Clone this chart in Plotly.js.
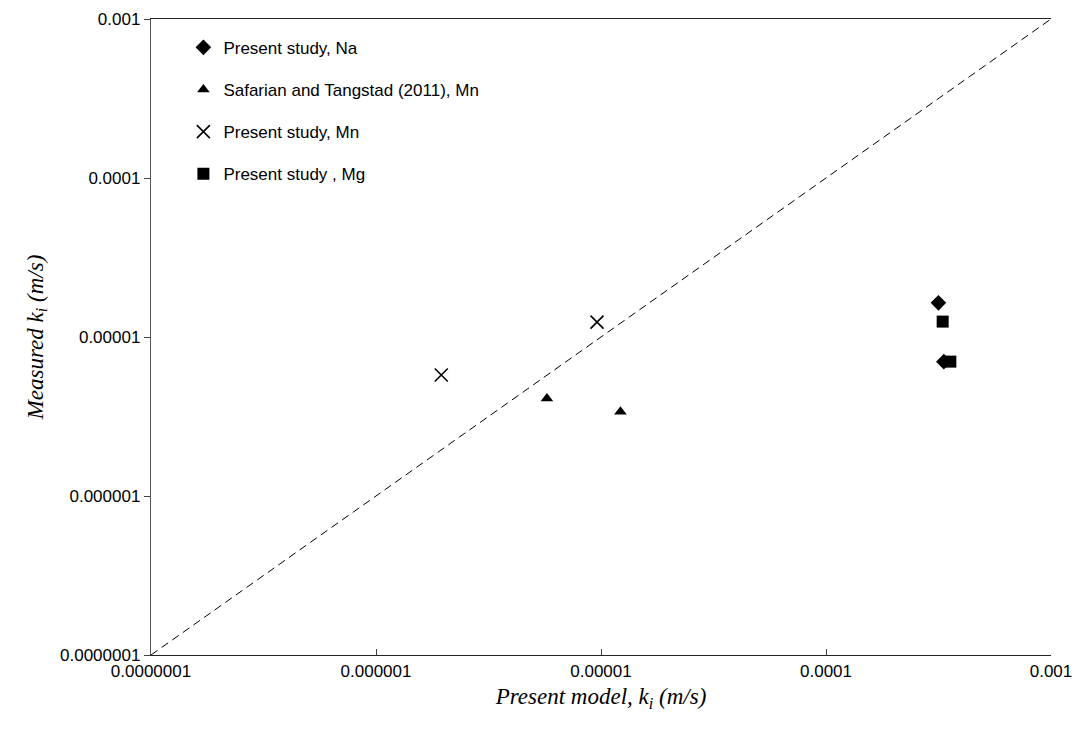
<!DOCTYPE html>
<html>
<head>
<meta charset="utf-8">
<script src="https://cdn.plot.ly/plotly-3.0.1.min.js"></script>
<style>html,body{margin:0;padding:0;background:#fff;}#chart{width:1081px;height:730px;}</style>
</head>
<body>
<div id="chart"></div>
<script>
// Data (model vs measured mass transfer coefficient, m/s)
const naModel = [3.16e-4, 3.34e-4];
const naMeasured = [1.64e-5, 7.0e-6];

const safModel = [5.75e-6, 1.22e-5];
const safMeasured = [4.1e-6, 3.39e-6];

const mnModel = [1.95e-6, 9.6e-6];
const mnMeasured = [5.77e-6, 1.24e-5];

const mgModel = [3.3e-4, 3.57e-4];
const mgMeasured = [1.25e-5, 7.0e-6];

const parityX = [1e-7, 1e-3];
const parityY = [1e-7, 1e-3];

const tickVals = [1e-7, 1e-6, 1e-5, 1e-4, 1e-3];
const tickText = ['0.0000001', '0.000001', '0.00001', '0.0001', '0.001'];

const traces = [
  {x: parityX, y: parityY, mode: 'lines', type: 'scatter', showlegend: false, hoverinfo: 'skip',
   line: {color: '#000', width: 1, dash: '8px,5px'}},
  {x: naModel, y: naMeasured, mode: 'markers', type: 'scatter', name: 'Present study, Na', legendgroup: 'a',
   marker: {symbol: 'diamond', size: 12, color: '#000'}},
  {x: safModel, y: safMeasured, mode: 'markers', type: 'scatter', name: 'Safarian and Tangstad (2011), Mn', legendgroup: 'b',
   marker: {symbol: 'triangle-up', size: 11, color: '#000'}},
  {x: mnModel, y: mnMeasured, mode: 'markers', type: 'scatter', name: 'Present study, Mn', legendgroup: 'c',
   marker: {symbol: 'x-thin', size: 13, color: '#000', line: {width: 1.6, color: '#000'}}},
  {x: mgModel, y: mgMeasured, mode: 'markers', type: 'scatter', name: 'Present study , Mg', legendgroup: 'd',
   marker: {symbol: 'square', size: 12, color: '#000'}}
];

const layout = {
  width: 1081, height: 730,
  margin: {l: 151, r: 30, t: 19, b: 75},
  paper_bgcolor: '#fff', plot_bgcolor: '#fff',
  font: {family: 'Liberation Sans, Arial, sans-serif', size: 17, color: '#000'},
  showlegend: true,
  legend: {x: 0.036, y: 0.983, xanchor: 'left', yanchor: 'top', bgcolor: 'rgba(0,0,0,0)',
           font: {size: 17, color: '#000'}, tracegroupgap: 17, traceorder: 'grouped'},
  xaxis: {type: 'log', range: [-7, -3], tickvals: tickVals, ticktext: tickText,
          showgrid: false, zeroline: false, showline: true, linecolor: '#222', linewidth: 1.2,
          mirror: true, ticks: 'inside', ticklen: 6, tickcolor: '#444', tickwidth: 1,
          tickfont: {size: 17}, automargin: false,
          title: {text: '<i>Present model, k<sub>i</sub> (m/s)</i>', standoff: 8,
                  font: {family: 'Liberation Serif, Times New Roman, serif', size: 23}}},
  yaxis: {type: 'log', range: [-7, -3], tickvals: tickVals, ticktext: tickText,
          showgrid: false, zeroline: false, showline: true, linecolor: '#555', linewidth: 1.2,
          ticks: 'outside', ticklen: 6, tickcolor: '#444', tickwidth: 1,
          tickfont: {size: 17}, automargin: false,
          title: {text: '<i>Measured k<sub>i</sub> (m/s)</i>', standoff: 10,
                  font: {family: 'Liberation Serif, Times New Roman, serif', size: 23}}}
};

Plotly.newPlot('chart', traces, layout, {displayModeBar: false, staticPlot: true});
</script>
</body>
</html>
